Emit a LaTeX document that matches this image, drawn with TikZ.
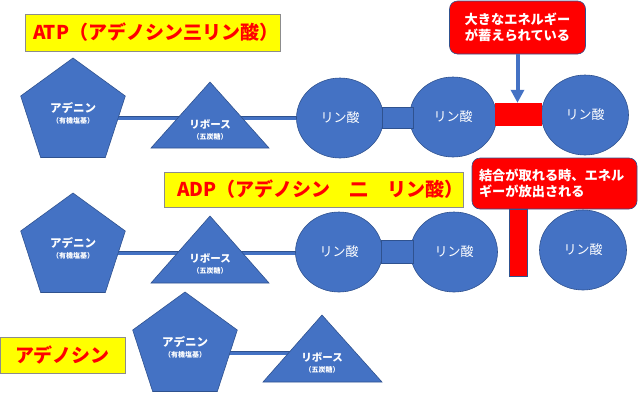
\documentclass[tikz,border=0pt]{standalone}
\usepackage{fontspec}
\newfontfamily\jp{Noto Sans CJK JP}
\usetikzlibrary{shapes.geometric,arrows.meta,backgrounds}
\definecolor{pblue}{HTML}{4472C4}
\definecolor{pdark}{HTML}{2F528F}
\definecolor{pred}{HTML}{FF0000}
\definecolor{pyellow}{HTML}{FFFF00}
\definecolor{pgrey}{HTML}{8C8C8C}
\begin{document}
\begin{tikzpicture}[x=1pt,y=-1pt,
  every node/.style={font=\jp},
  penta/.style={regular polygon, regular polygon sides=5, minimum size=110pt, inner sep=0pt,
    fill=pblue, draw=pdark, line width=0.6pt, text=white, align=center,
    font=\jp\bfseries\fontsize{11.5}{13}\selectfont},
  trishape/.style={fill=pblue, draw=pdark, line width=0.6pt},
  tritext/.style={text=white, align=center, inner sep=0pt,
    font=\jp\bfseries\fontsize{10.5}{12}\selectfont},
  phos/.style={ellipse, minimum width=87pt, minimum height=80pt, inner sep=0pt,
    fill=pblue, draw=pdark, line width=0.6pt, text=white,
    font=\jp\fontsize{13}{15}\selectfont},
  bondbox/.style={rectangle, fill=pblue, draw=pdark, line width=0.6pt, inner sep=0pt},
  redbox/.style={rectangle, fill=pred, inner sep=0pt},
  titlebox/.style={rectangle, fill=pyellow, draw=pgrey, line width=0.8pt, text=pred,
    font=\jp\bfseries\fontsize{19}{22}\selectfont},
  callout/.style={rectangle, rounded corners=8pt, fill=pred, draw=pdark, line width=0.6pt,
    text=white, font=\jp\bfseries\fontsize{13.2}{16.5}\selectfont},
  link/.style={draw=pdark, line width=0.6pt, double=pblue, double distance=3pt},
  energyarrow/.style={draw=pblue, line width=4pt, -{Triangle[width=13pt,length=13pt]}}
]
\useasboundingbox (0,0) rectangle (640,392);

% ---------- ATP row ----------
\node[titlebox, minimum height=37pt, inner xsep=8pt, text width=239pt, align=left] (atp) at (152.5,32.5) {ATP（アデノシン三リン酸）};

\node[penta] (a1) at (73,113) {アデニン\\[-2pt]{\fontsize{7}{8}\selectfont （有機塩基）}};
\fill[trishape] (151,148) -- (210,82) -- (269,148) -- cycle;
\node[tritext] (r1) at (210,130) {リボース\\[-1pt]{\fontsize{7}{8}\selectfont （五炭糖）}};
\node[phos] (c1) at (340,118) {リン酸};
\node[phos] (c2) at (453,117) {リン酸};
\node[phos] (c3) at (585,115) {リン酸};
\node[bondbox, minimum width=31pt, minimum height=21pt] (b1) at (397.5,117.5) {};
\node[redbox, minimum width=47pt, minimum height=23pt] (e1) at (518.5,114.5) {};
\node[callout, minimum width=136pt, minimum height=53pt, align=center] (k1) at (517.5,27.5) {大きなエネルギー\\が蓄えられている};
\draw[energyarrow] (k1.south) -- (k1.south |- e1.north);

% ---------- ADP row ----------
\node[titlebox, minimum height=35pt, inner xsep=13pt, text width=273pt, align=left] (adp) at (313.5,189.5) {ADP（アデノシン　二　リン酸）};

\node[penta] (a2) at (73,248) {アデニン\\[-2pt]{\fontsize{7}{8}\selectfont （有機塩基）}};
\fill[trishape] (151,283) -- (210,216) -- (269,283) -- cycle;
\node[tritext] (r2) at (210,263.5) {リボース\\[-1pt]{\fontsize{7}{8}\selectfont （五炭糖）}};
\node[phos] (c4) at (339,252) {リン酸};
\node[phos] (c5) at (454,252) {リン酸};
\node[phos] (c6) at (583,250) {リン酸};
\node[bondbox, minimum width=32pt, minimum height=23pt] (b2) at (397,251.5) {};
\node[callout, minimum width=165pt, minimum height=51pt, inner xsep=7pt, text width=151pt, align=left] (k2) at (554.5,183.5) {結合が取れる時、エネル\\ギーが放出される};
\node[redbox, draw=pdark, line width=0.4pt, minimum width=18pt, minimum height=67pt, anchor=north] (e2) at (k2.south -| 518,0) {};

% ---------- Adenosine row ----------
\node[titlebox, minimum width=125pt, minimum height=36pt, inner sep=0pt] (ado) at (62.5,355) {アデノシン};
\node[penta] (a3) at (185,347) {アデニン\\[-2pt]{\fontsize{7}{8}\selectfont （有機塩基）}};
\coordinate (t3) at (322,353);
\fill[trishape] (263,382) -- (322,315) -- (382,382) -- cycle;
\node[tritext] (r3) at (322,363) {リボース\\[-1pt]{\fontsize{7}{8}\selectfont （五炭糖）}};

% ---------- connectors behind ----------
\begin{scope}[on background layer]
  \draw[link] (a1.center |- c1.center) -- (c1.center);
  \draw[link] (a2.center |- 0,253) -- (c4.center |- 0,253);
  \draw[link] (a3.center |- t3) -- (t3);
\end{scope}
\end{tikzpicture}
\end{document}
